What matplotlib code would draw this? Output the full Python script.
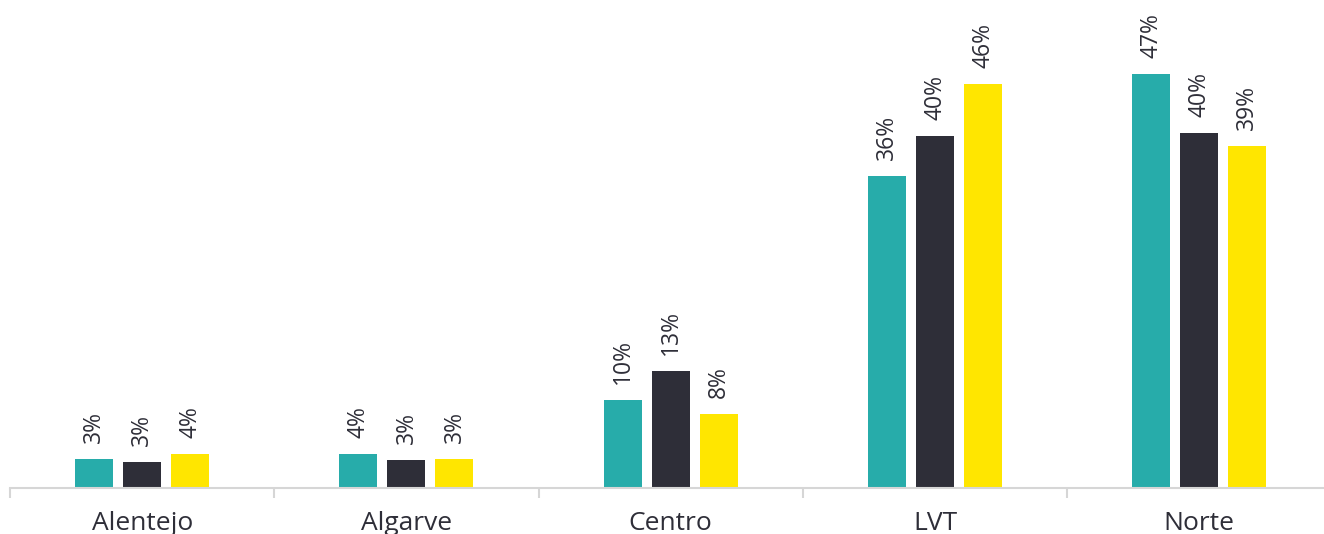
import numpy as np
import matplotlib.pyplot as plt

regions = ['Alentejo', 'Algarve', 'Centro', 'LVT', 'Norte']

# bar heights, labels as printed
serie_a = [3.2, 3.8, 10.0, 35.4, 47.0]
serie_b = [2.9, 3.1, 13.2, 39.9, 40.3]
serie_c = [3.8, 3.2, 8.35, 45.8, 38.8]
labels_a = ['3%', '4%', '10%', '36%', '47%']
labels_b = ['3%', '3%', '13%', '40%', '40%']
labels_c = ['4%', '3%', '8%', '46%', '39%']

cores = ['#27ACAA', '#2E2E38', '#FFE600']
txt_cor = '#2E2E38'

plt.rcParams['font.family'] = ['Open Sans', 'DejaVu Sans']

fig = plt.figure(figsize=(13.24, 5.34), dpi=100)
ax = fig.add_axes([10 / 1324, 46.5 / 534, 1321.5 / 1324, 440 / 534])

x = np.arange(len(regions))
larg = 0.144
passo = 0.1816

series = [(serie_a, labels_a), (serie_b, labels_b), (serie_c, labels_c)]
for i, (vals, labs) in enumerate(series):
    pos = x + (i - 1) * passo
    bars = ax.bar(pos, vals, width=larg, color=cores[i], zorder=2)
    for b, lab in zip(bars, labs):
        ax.annotate(lab, (b.get_x() + b.get_width() / 2, b.get_height()),
                    xytext=(0, 11.5), textcoords='offset points',
                    rotation=90, ha='center', va='bottom',
                    fontsize=16.5, color=txt_cor)

ax.set_xlim(-0.5, 4.5)
ax.set_ylim(0, 50)

ax.set_xticks(x)
ax.set_xticklabels(regions, fontsize=19, color=txt_cor)
ax.tick_params(axis='x', which='major', length=0, pad=17)
ax.set_xticks(np.arange(-0.5, 5, 1), minor=True)
ax.tick_params(axis='x', which='minor', length=7.5, width=1.5, color='#D6D6D6')

ax.set_yticks([])
for s in ['top', 'right', 'left']:
    ax.spines[s].set_visible(False)
ax.spines['bottom'].set_color('#D6D6D6')
ax.spines['bottom'].set_linewidth(1.5)

fig.savefig('out.png', dpi=100)
